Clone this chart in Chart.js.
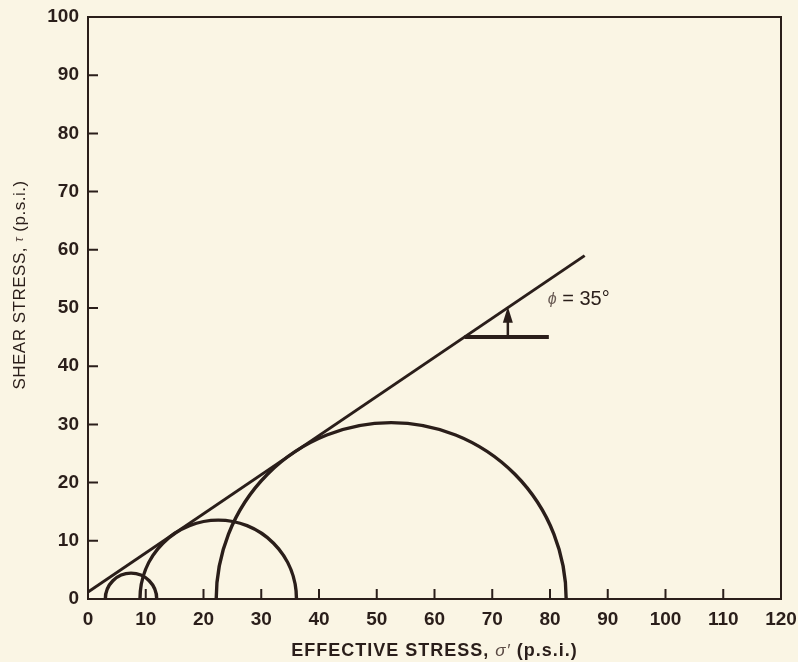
<!DOCTYPE html>
<html lang="en">
<head>
    <meta charset="UTF-8">
    <title>Mohr circles - failure envelope</title>
    <script src="https://cdn.jsdelivr.net/npm/chart.js"></script>
    <style>
        body {
            margin: 0;
            background: #faf5e4;
        }
        canvas {
            display: block;
        }
    </style>
</head>
<body>
    <canvas id="mohrChart" width="798" height="662"></canvas>

    <script>
        // Failure envelope (tangent to the circles)
        const envelopeX = [0, 86];
        const envelopeY = [1.2, 59];

        // Horizontal reference line used to show the friction angle
        const refLineX = [65.2, 79.8];
        const refLineY = [45, 45];

        // Arrow from the reference line up to the envelope
        const arrowX = [72.7, 72.7];
        const arrowY = [45, 50.2];

        // Mohr circles: minor and major principal effective stress (p.s.i.)
        const sigma3 = [3.0, 9.0, 22.2];
        const sigma1 = [11.9, 36.1, 82.8];

        // Axis ticks
        const xTicks = [0, 10, 20, 30, 40, 50, 60, 70, 80, 90, 100, 110, 120];
        const yTicks = [0, 10, 20, 30, 40, 50, 60, 70, 80, 90, 100];

        // Angle label position
        const phiLabelX = 79.6;
        const phiLabelY = 51.4;

        const ink = '#2a1e1a';
        const family = '"Liberation Sans", Arial, sans-serif';

        function pairs(xs, ys) {
            return xs.map((x, i) => ({ x: x, y: ys[i] }));
        }

        // Draws a run of text pieces with different fonts, centred on x
        function drawParts(ctx, parts, x, y, spacing) {
            ctx.letterSpacing = spacing;
            let total = 0;
            parts.forEach(p => {
                ctx.font = p.font;
                total += ctx.measureText(p.text).width;
            });
            let cx = x - total / 2;
            parts.forEach(p => {
                ctx.font = p.font;
                ctx.fillStyle = p.color || ink;
                ctx.fillText(p.text, cx, y);
                cx += ctx.measureText(p.text).width;
            });
            ctx.letterSpacing = '0px';
        }

        const mohrPlugin = {
            id: 'mohr',
            beforeDraw(chart) {
                const ctx = chart.ctx;
                ctx.save();
                ctx.fillStyle = '#faf5e4';
                ctx.fillRect(0, 0, chart.width, chart.height);
                ctx.restore();
            },
            afterDatasetsDraw(chart) {
                const ctx = chart.ctx;
                const xs = chart.scales.x;
                const ys = chart.scales.y;
                ctx.save();
                ctx.strokeStyle = ink;
                ctx.fillStyle = ink;

                // Mohr semicircles
                ctx.lineWidth = 3.4;
                sigma3.forEach((s3, i) => {
                    const c = (sigma1[i] + s3) / 2;
                    const r = (sigma1[i] - s3) / 2;
                    const px = xs.getPixelForValue(c);
                    const py = ys.getPixelForValue(0);
                    const rx = xs.getPixelForValue(c + r) - px;
                    const ry = py - ys.getPixelForValue(r);
                    ctx.beginPath();
                    ctx.ellipse(px, py, rx, ry, 0, Math.PI, 2 * Math.PI);
                    ctx.stroke();
                });

                // Arrow
                const ax = xs.getPixelForValue(arrowX[0]);
                const ay0 = ys.getPixelForValue(arrowY[0]);
                const ay1 = ys.getPixelForValue(arrowY[1]);
                ctx.lineWidth = 2.5;
                ctx.beginPath();
                ctx.moveTo(ax, ay0);
                ctx.lineTo(ax, ay1 + 12);
                ctx.stroke();
                ctx.beginPath();
                ctx.moveTo(ax, ay1);
                ctx.lineTo(ax - 5, ay1 + 16);
                ctx.lineTo(ax + 5, ay1 + 16);
                ctx.closePath();
                ctx.fill();

                // Angle label
                ctx.textAlign = 'left';
                ctx.textBaseline = 'middle';
                const lx = xs.getPixelForValue(phiLabelX);
                const ly = ys.getPixelForValue(phiLabelY);
                ctx.font = 'italic 16px ' + family;
                ctx.fillStyle = '#6a5c55';
                ctx.fillText('\u03D5', lx, ly);
                const w = ctx.measureText('\u03D5').width;
                ctx.font = '20px ' + family;
                ctx.fillStyle = ink;
                ctx.fillText(' = 35\u00B0', lx + w, ly);
                ctx.restore();
            },
            afterDraw(chart) {
                const ctx = chart.ctx;
                const a = chart.chartArea;
                const xs = chart.scales.x;
                const ys = chart.scales.y;
                ctx.save();
                ctx.strokeStyle = ink;

                // Frame
                ctx.lineWidth = 2;
                ctx.strokeRect(a.left, a.top, a.right - a.left, a.bottom - a.top);

                // Inward tick marks
                ctx.lineWidth = 2;
                ctx.beginPath();
                xTicks.slice(1, -1).forEach(v => {
                    const px = xs.getPixelForValue(v);
                    ctx.moveTo(px, a.bottom);
                    ctx.lineTo(px, a.bottom - 10);
                });
                yTicks.slice(1, -1).forEach(v => {
                    const py = ys.getPixelForValue(v);
                    ctx.moveTo(a.left, py);
                    ctx.lineTo(a.left + 10, py);
                });
                ctx.stroke();

                // Axis titles
                ctx.textBaseline = 'middle';
                ctx.textAlign = 'left';
                drawParts(ctx, [
                    { text: 'EFFECTIVE STRESS, ', font: 'bold 18px ' + family },
                    { text: '\u03C3\u2032', font: 'italic 17px ' + family, color: '#5a4a44' },
                    { text: ' (p.s.i.)', font: 'bold 18px ' + family }
                ], (a.left + a.right) / 2, 651, '1px');

                ctx.translate(20, 285);
                ctx.rotate(-Math.PI / 2);
                drawParts(ctx, [
                    { text: 'SHEAR STRESS, ', font: '17px ' + family },
                    { text: '\u03C4', font: 'italic 12px ' + family, color: '#5a4a44' },
                    { text: ' (p.s.i.)', font: '17px ' + family }
                ], 0, 0, '0.5px');
                ctx.restore();
            }
        };

        const tickFont = { family: family, size: 19, weight: 'bold' };

        new Chart(document.getElementById('mohrChart').getContext('2d'), {
            type: 'scatter',
            data: {
                datasets: [
                    {
                        label: 'Failure envelope',
                        data: pairs(envelopeX, envelopeY),
                        showLine: true,
                        borderColor: ink,
                        borderWidth: 3,
                        pointRadius: 0
                    },
                    {
                        label: 'Reference',
                        data: pairs(refLineX, refLineY),
                        showLine: true,
                        borderColor: ink,
                        borderWidth: 4,
                        pointRadius: 0
                    }
                ]
            },
            options: {
                responsive: false,
                animation: false,
                layout: { padding: { top: 17, right: 17, left: 0, bottom: 0 } },
                scales: {
                    x: {
                        type: 'linear',
                        min: 0,
                        max: 120,
                        afterBuildTicks: s => { s.ticks = xTicks.map(v => ({ value: v })); },
                        afterFit: s => {
                            s.height = 63;
                            s.paddingLeft = 0;
                            s.paddingRight = 0;
                        },
                        grid: { display: false, drawTicks: false },
                        border: { display: false },
                        ticks: { color: ink, font: tickFont, padding: 9, maxRotation: 0 }
                    },
                    y: {
                        type: 'linear',
                        min: 0,
                        max: 100,
                        afterBuildTicks: s => { s.ticks = yTicks.map(v => ({ value: v })); },
                        afterFit: s => {
                            s.width = 88;
                            s.paddingTop = 0;
                            s.paddingBottom = 0;
                        },
                        grid: { display: false, drawTicks: false },
                        border: { display: false },
                        ticks: { color: ink, font: tickFont, padding: 9 }
                    }
                },
                plugins: {
                    legend: { display: false },
                    tooltip: { enabled: false }
                }
            },
            plugins: [mohrPlugin]
        });
    </script>
</body>
</html>
